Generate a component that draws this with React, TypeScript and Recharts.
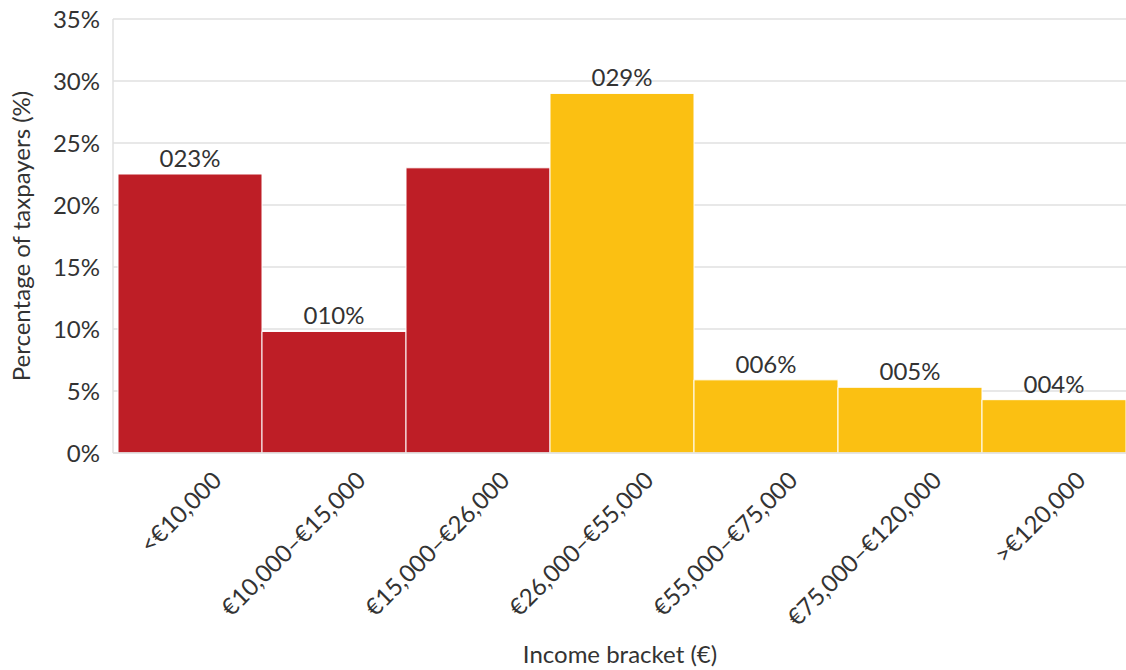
import { BarChart, Bar, XAxis, YAxis, CartesianGrid, Cell, LabelList, Label } from "recharts";

// income brackets and share of taxpayers (%)
const brackets = [
  "<€10,000",
  "€10,000–€15,000",
  "€15,000–€26,000",
  "€26,000–€55,000",
  "€55,000–€75,000",
  "€75,000–€120,000",
  ">€120,000",
];
const shares = [22.5, 9.8, 23.0, 29.0, 5.9, 5.3, 4.3];
// the third bar carries no value label in the original
const showLabel = [true, true, false, true, true, true, true];
const groupColors = ["#BE1E26", "#BE1E26", "#BE1E26", "#FBC012", "#FBC012", "#FBC012", "#FBC012"];
const yTicks = [0, 5, 10, 15, 20, 25, 30, 35];

const FONT = "Lato, 'Open Sans', sans-serif";
const TEXT = "#333333";
const FS = 24;

const data = brackets.map((name, i) => ({ name, share: shares[i], show: showLabel[i] }));

const XTick = ({ x, y, payload }: any) => {
  const tx = x + 33;
  const ty = y + 21;
  return (
    <text
      x={tx}
      y={ty}
      transform={`rotate(-45, ${tx}, ${ty})`}
      textAnchor="end"
      fontSize={FS}
      fontFamily={FONT}
      fill={TEXT}
    >
      {payload.value}
    </text>
  );
};

const ValueLabel = (props: any) => {
  const { x, y, width, value, index } = props;
  if (!data[index].show) return null;
  const txt = String(Math.round(value)).padStart(3, "0") + "%";
  return (
    <text x={x + width / 2} y={y - 7} textAnchor="middle" fontSize={FS} fontFamily={FONT} fill={TEXT}>
      {txt}
    </text>
  );
};

export default function App() {
  return (
    <div style={{ position: "absolute", left: 0, top: 0, width: 1126, height: 670, background: "#fff" }}>
      <BarChart
        width={1126}
        height={670}
        data={data}
        margin={{ top: 19, right: 0, left: 0, bottom: 0 }}
        barCategoryGap={0}
      >
        <CartesianGrid vertical={false} stroke="#e0e0e0" strokeWidth={1.5} />
        <XAxis
          dataKey="name"
          height={217}
          interval={0}
          padding={{ left: 5, right: 0 }}
          tickLine={false}
          axisLine={{ stroke: "#e0e0e0", strokeWidth: 1.5 }}
          tick={<XTick />}
        >
          <Label
            content={() => (
              <text x={620} y={663} textAnchor="middle" fontSize={FS} fontFamily={FONT} fill={TEXT}>
                Income bracket (€)
              </text>
            )}
          />
        </XAxis>
        <YAxis
          width={113}
          domain={[0, 35]}
          ticks={yTicks}
          tickFormatter={(v: number) => `${v}%`}
          tickLine={false}
          tickMargin={7}
          axisLine={{ stroke: "#e0e0e0", strokeWidth: 1.5 }}
          tick={{ fontSize: FS, fontFamily: FONT, fill: TEXT }}
        >
          <Label
            content={() => (
              <text
                x={30}
                y={236}
                transform="rotate(-90, 30, 236)"
                textAnchor="middle"
                fontSize={FS}
                fontFamily={FONT}
                fill={TEXT}
              >
                Percentage of taxpayers (%)
              </text>
            )}
          />
        </YAxis>
        <Bar dataKey="share" stroke="#ffffff" strokeWidth={1} isAnimationActive={false}>
          {data.map((d, i) => (
            <Cell key={d.name} fill={groupColors[i]} />
          ))}
          <LabelList dataKey="share" content={<ValueLabel />} />
        </Bar>
      </BarChart>
    </div>
  );
}
